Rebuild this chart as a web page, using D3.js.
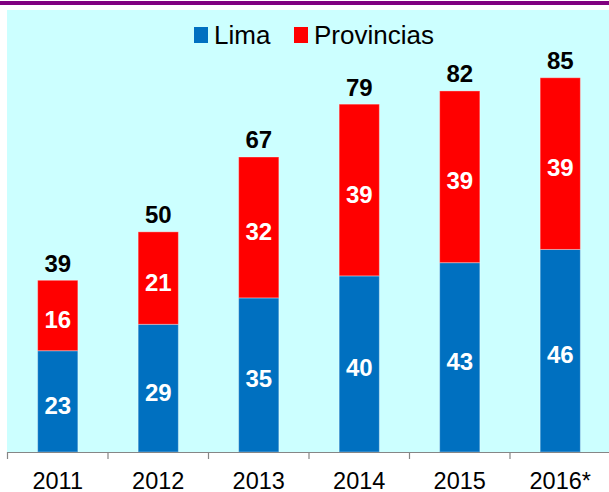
<!DOCTYPE html>
<html>
<head>
<meta charset="utf-8">
<script src="https://cdn.jsdelivr.net/npm/d3@7"></script>
<style>
  html, body { margin: 0; padding: 0; background: #ffffff; }
  svg { display: block; }
  text { font-family: "Liberation Sans", Arial, sans-serif; }
</style>
</head>
<body>
<svg id="chart" width="609" height="492"></svg>
<script>
const categories = ["2011", "2012", "2013", "2014", "2015", "2016*"];
const lima = [23, 29, 35, 40, 43, 46];
const provincias = [16, 21, 32, 39, 39, 39];
const totals = [39, 50, 67, 79, 82, 85];
const seriesNames = ["Lima", "Provincias"];
const seriesColors = ["#0070C0", "#FF0000"];

const W = 609, H = 492;
const svg = d3.select("#chart");

// top purple rule
svg.append("rect").attr("x", 0).attr("y", 1).attr("width", W).attr("height", 4).attr("fill", "#800080");

const plot = { left: 7.5, right: 610.5, top: 10, bottom: 452 };

// plot background
svg.append("rect")
  .attr("x", 7).attr("y", plot.top)
  .attr("width", W - 7).attr("height", plot.bottom - plot.top)
  .attr("fill", "#CCFFFF");

const x = d3.scaleBand()
  .domain(categories)
  .range([plot.left, plot.right])
  .paddingInner(0.6)
  .paddingOuter(0.3);

const y = d3.scaleLinear().domain([0, 100]).range([plot.bottom, 11.7]);

const rows = categories.map((c, i) => ({ cat: c, Lima: lima[i], Provincias: provincias[i], total: totals[i] }));
const stacked = d3.stack().keys(seriesNames)(rows);

const g = svg.append("g");
stacked.forEach((layer, li) => {
  g.selectAll(null).data(layer).enter().append("rect")
    .attr("x", d => x(d.data.cat))
    .attr("y", d => y(d[1]))
    .attr("width", x.bandwidth())
    .attr("height", d => y(d[0]) - y(d[1]))
    .attr("fill", seriesColors[li])
    .attr("stroke", "rgba(255,255,255,0.35)")
    .attr("stroke-width", 1);
  g.selectAll(null).data(layer).enter().append("text")
    .attr("x", d => x(d.data.cat) + x.bandwidth() / 2)
    .attr("y", d => (y(d[0]) + y(d[1])) / 2 + 12.5)
    .attr("text-anchor", "middle")
    .attr("font-size", 24)
    .attr("font-weight", "bold")
    .attr("fill", "#ffffff")
    .text(d => d.data[seriesNames[li]]);
});

// totals
g.selectAll(null).data(rows).enter().append("text")
  .attr("x", d => x(d.cat) + x.bandwidth() / 2)
  .attr("y", d => y(d.total) - 8.5)
  .attr("text-anchor", "middle")
  .attr("font-size", 24)
  .attr("font-weight", "bold")
  .attr("fill", "#000000")
  .text(d => d.total);

// x axis
const step = x.step();
const axisG = svg.append("g");
axisG.append("line")
  .attr("x1", plot.left).attr("x2", W)
  .attr("y1", plot.bottom + 0.5).attr("y2", plot.bottom + 0.5)
  .attr("stroke", "#868686").attr("stroke-width", 1.2);
const tickPos = d3.range(categories.length + 1).map(i => plot.left + i * step);
axisG.selectAll(null).data(tickPos).enter().append("line")
  .attr("x1", d => d).attr("x2", d => d)
  .attr("y1", plot.bottom).attr("y2", plot.bottom + 7)
  .attr("stroke", "#868686").attr("stroke-width", 1.2);
axisG.selectAll(null).data(categories).enter().append("text")
  .attr("x", d => x(d) + x.bandwidth() / 2)
  .attr("y", 488.5)
  .attr("text-anchor", "middle")
  .attr("font-size", 23.5)
  .attr("fill", "#000000")
  .text(d => d);

// legend
const legend = svg.append("g");
const legendItems = [
  { name: seriesNames[0], color: seriesColors[0], sx: 194, tx: 214 },
  { name: seriesNames[1], color: seriesColors[1], sx: 294, tx: 314 }
];
legendItems.forEach(it => {
  legend.append("rect").attr("x", it.sx).attr("y", 27).attr("width", 14).attr("height", 16).attr("fill", it.color);
  legend.append("text").attr("x", it.tx).attr("y", 43.5)
    .attr("font-size", 26).attr("fill", "#000000").text(it.name);
});
</script>
</body>
</html>
